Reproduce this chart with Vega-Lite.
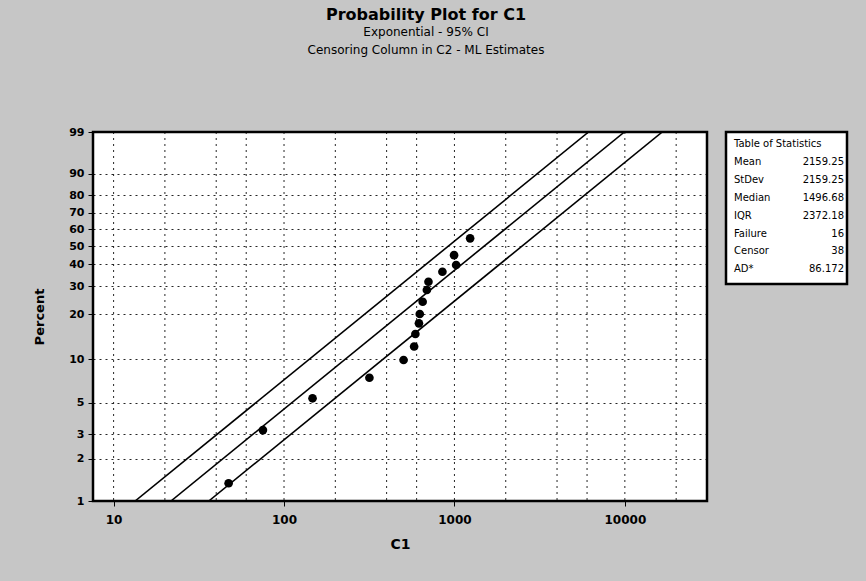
{
  "$schema": "https://vega.github.io/schema/vega-lite/v6.json",
  "autosize": {"type": "pad"},
  "padding": {"left": 32, "top": 5, "right": 40, "bottom": 40},
  "background": "#c6c6c6",
  "bounds": "flush",
  "spacing": 19,
  "config": {
    "view": {"stroke": "black", "strokeWidth": 2.5, "fill": "white"},
    "font": "DejaVu Sans"
  },
  "hconcat": [
    {
      "width": 614,
      "height": 369,
      "title": {
        "text": "Probability Plot for C1",
        "subtitle": ["Exponential - 95% CI", "Censoring Column in C2 - ML Estimates"],
        "anchor": "middle",
        "frame": "group",
        "dx": 26,
        "offset": 70,
        "font": "DejaVu Sans",
        "fontSize": 16,
        "fontWeight": "bold",
        "color": "black",
        "subtitleFont": "DejaVu Sans",
        "subtitleFontSize": 12,
        "subtitleColor": "black",
        "subtitlePadding": 4,
        "subtitleLineHeight": 18
      },
      "layer": [
        {
          "data": {"values": [
            {"x": 10}, {"x": 20}, {"x": 40}, {"x": 60},
            {"x": 100}, {"x": 200}, {"x": 400}, {"x": 600},
            {"x": 1000}, {"x": 2000}, {"x": 4000}, {"x": 6000},
            {"x": 10000}, {"x": 20000}
          ]},
          "mark": {"type": "rule", "color": "black", "strokeWidth": 1, "strokeDash": [2, 4], "opacity": 0.85},
          "encoding": {
            "x": {"field": "x", "type": "quantitative",
                  "scale": {"type": "log", "domain": [7.57, 30340], "nice": false},
                  "axis": {
                    "title": "C1",
                    "values": [10, 100, 1000, 10000],
                    "tickCount": 20,
                    "format": "d",
                    "grid": false,
                    "domain": false,
                    "labelOverlap": false,
                    "labelBound": false,
                    "tickColor": "black",
                    "tickSize": 5,
                    "labelPadding": 8,
                    "labelFont": "DejaVu Sans",
                    "labelFontSize": 12,
                    "labelFontWeight": "bold",
                    "labelColor": "black",
                    "titleFont": "DejaVu Sans",
                    "titleFontSize": 14,
                    "titleFontWeight": "bold",
                    "titleColor": "black",
                    "titlePadding": 12
                  }}
          }
        },
        {
          "data": {"values": [
            {"line": "upper", "x": 13.37, "pct": 1}, {"line": "upper", "x": 6125, "pct": 99},
            {"line": "fit", "x": 21.70, "pct": 1}, {"line": "fit", "x": 9944, "pct": 99},
            {"line": "lower", "x": 36.18, "pct": 1}, {"line": "lower", "x": 16579, "pct": 99}
          ]},
          "transform": [{"calculate": "log(-log(1 - datum.pct / 100))", "as": "z"}],
          "mark": {"type": "line", "color": "black", "strokeWidth": 1.6, "clip": true},
          "encoding": {
            "x": {"field": "x", "type": "quantitative"},
            "y": {"field": "z", "type": "quantitative",
                  "scale": {"domain": [-4.600149, 1.52718], "nice": false, "zero": false},
                  "axis": {
                    "title": "Percent",
                    "values": [-4.600149, -3.901939, -3.491366, -2.970195, -2.250367, -1.49994, -1.03093, -0.671727, -0.366513, -0.087422, 0.185626, 0.475885, 0.834032, 1.52718],
                    "tickCount": 30,
                    "labelExpr": "format(100 * (1 - exp(-exp(datum.value))), '.0f')",
                    "labelOverlap": false,
                    "labelBound": false,
                    "grid": true,
                    "gridColor": "black",
                    "gridDash": [2, 4],
                    "gridOpacity": 0.85,
                    "domain": false,
                    "tickColor": "black",
                    "tickSize": 5,
                    "labelPadding": 4,
                    "labelFont": "DejaVu Sans",
                    "labelFontSize": 11,
                    "labelFontWeight": "bold",
                    "labelColor": "black",
                    "titleFont": "DejaVu Sans",
                    "titleFontSize": 13,
                    "titleFontWeight": "bold",
                    "titleColor": "black",
                    "titlePadding": 22
                  }},
            "detail": {"field": "line"}
          }
        },
        {
          "data": {"values": [
            {"x": 47.3, "pct": 1.34},
            {"x": 75.2, "pct": 3.21},
            {"x": 147, "pct": 5.38},
            {"x": 317, "pct": 7.49},
            {"x": 503, "pct": 9.92},
            {"x": 580, "pct": 12.25},
            {"x": 590, "pct": 14.86},
            {"x": 619, "pct": 17.47},
            {"x": 626, "pct": 20.09},
            {"x": 651, "pct": 24.04},
            {"x": 689, "pct": 28.39},
            {"x": 704, "pct": 31.84},
            {"x": 850, "pct": 36.4},
            {"x": 1023, "pct": 39.7},
            {"x": 995, "pct": 44.9},
            {"x": 1236, "pct": 54.5}
          ]},
          "transform": [{"calculate": "log(-log(1 - datum.pct / 100))", "as": "z"}],
          "mark": {"type": "circle", "color": "black", "opacity": 1, "size": 75},
          "encoding": {
            "x": {"field": "x", "type": "quantitative"},
            "y": {"field": "z", "type": "quantitative"}
          }
        }
      ]
    },
    {
      "width": 121,
      "height": 152,
      "data": {"values": [
        {"row": 0, "label": "Table of Statistics", "value": ""},
        {"row": 1, "label": "Mean", "value": "2159.25"},
        {"row": 2, "label": "StDev", "value": "2159.25"},
        {"row": 3, "label": "Median", "value": "1496.68"},
        {"row": 4, "label": "IQR", "value": "2372.18"},
        {"row": 5, "label": "Failure", "value": "16"},
        {"row": 6, "label": "Censor", "value": "38"},
        {"row": 7, "label": "AD*", "value": "86.172"}
      ]},
      "layer": [
        {
          "mark": {"type": "text", "align": "left", "baseline": "middle", "font": "DejaVu Sans", "fontSize": 10, "color": "black", "dx": 8},
          "encoding": {
            "x": {"datum": 0, "type": "quantitative", "scale": {"domain": [0, 1]}, "axis": null},
            "y": {"field": "row", "type": "quantitative", "scale": {"domain": [-0.67, 7.82], "reverse": true, "nice": false, "zero": false}, "axis": null},
            "text": {"field": "label"}
          }
        },
        {
          "mark": {"type": "text", "align": "right", "baseline": "middle", "font": "DejaVu Sans", "fontSize": 10, "color": "black", "dx": -3},
          "encoding": {
            "x": {"datum": 1, "type": "quantitative", "axis": null},
            "y": {"field": "row", "type": "quantitative", "axis": null},
            "text": {"field": "value"}
          }
        }
      ]
    }
  ]
}
